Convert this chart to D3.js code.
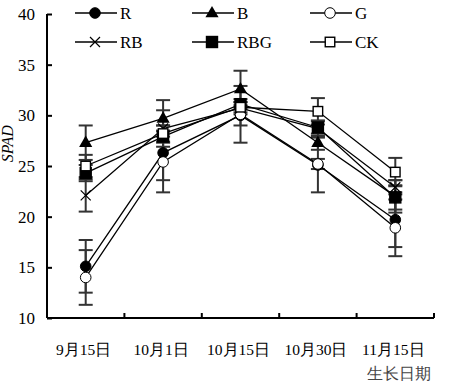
<!DOCTYPE html>
<html>
<head>
<meta charset="utf-8">
<script src="https://cdn.jsdelivr.net/npm/d3@7"></script>
<style>
  body { margin: 0; background: #fff; }
</style>
</head>
<body>
<svg id="chart"></svg>
<script>
(function(){

    var W = 450, H = 391;
    var margin = {top: 14, right: 16, bottom: 73, left: 47};
    var width = W - margin.left - margin.right;
    var height = H - margin.top - margin.bottom;
    var FONT = "'Liberation Serif'";

    // data
    var dates = ["9月15日", "10月1日", "10月15日", "10月30日", "11月15日"];
    var seriesNames = ["R", "B", "G", "RB", "RBG", "CK"];
    var R   = [15.1, 26.3, 30.0, 25.1, 19.7];
    var B   = [27.3, 29.7, 32.6, 27.3, 22.0];
    var G   = [14.0, 25.4, 30.1, 25.2, 18.9];
    var RB  = [22.1, 28.7, 30.7, 28.7, 22.9];
    var RBG = [24.3, 27.9, 31.1, 28.8, 21.9];
    var CK  = [25.0, 28.2, 30.8, 30.4, 24.4];
    var errR   = [2.6, 2.7, 1.0, 2.7, 2.7];
    var errB   = [1.7, 1.8, 1.8, 0.7, 1.6];
    var errG   = [2.7, 3.0, 2.8, 0.5, 2.8];
    var errRB  = [1.6, 1.8, 0.6, 0.8, 0.7];
    var errRBG = [0.8, 0.6, 0.5, 0.6, 1.2];
    var errCK  = [1.1, 0.8, 0.5, 1.3, 1.4];
    var yTicks = [10, 15, 20, 25, 30, 35, 40];

    var values = [R, B, G, RB, RBG, CK];
    var errors = [errR, errB, errG, errRB, errRBG, errCK];
    var shapes = ["circle", "triangle", "circleOpen", "cross", "square", "squareOpen"];

    var series = seriesNames.map(function(name, i){
        return {
            name: name,
            shape: shapes[i],
            points: values[i].map(function(v, j){ return {date: dates[j], value: v, err: errors[i][j]}; })
        };
    });

    var svg = d3.select("svg#chart")
        .attr("width", W)
        .attr("height", H)
        .append("g")
        .attr("transform", "translate(" + margin.left + "," + margin.top + ")");

    var xScale = d3.scaleBand()
        .domain(dates)
        .range([0, width]);

    var yScale = d3.scaleLinear()
        .domain([10, 40])
        .range([height, 0]);

    var cx = function(d){ return xScale(d.date) + xScale.bandwidth() / 2; };

    // y axis, ticks point inward
    svg.append("g")
        .attr("class", "yaxis")
        .call(d3.axisRight(yScale).tickValues(yTicks).tickSize(5).tickFormat(""))
        .call(function(g){
            g.select(".domain").attr("d", "M0," + yScale(40) + "V" + yScale(10)).attr("stroke-width", 2);
            g.selectAll(".tick line").attr("stroke-width", 2);
        });

    svg.append("g")
        .selectAll("text")
        .data(yTicks)
        .enter()
        .append("text")
            .attr("x", -12)
            .attr("y", function(d){ return yScale(d); })
            .attr("dy", "0.35em")
            .attr("text-anchor", "end")
            .style("font-family", FONT)
            .style("font-size", "17px")
            .text(function(d){ return d; });

    // x axis, ticks at band ends pointing up
    var xAxis = svg.append("g")
        .attr("transform", "translate(0," + height + ")");
    xAxis.append("line")
        .attr("x1", 0).attr("x2", width)
        .attr("stroke", "#000").attr("stroke-width", 2);
    xAxis.selectAll("line.tick")
        .data(dates)
        .enter()
        .append("line")
            .attr("class", "tick")
            .attr("x1", function(d){ return xScale(d) + xScale.bandwidth(); })
            .attr("x2", function(d){ return xScale(d) + xScale.bandwidth(); })
            .attr("y1", 0).attr("y2", -5)
            .attr("stroke", "#000").attr("stroke-width", 2);
    xAxis.selectAll("text")
        .data(dates)
        .enter()
        .append("text")
            .attr("x", function(d){ return xScale(d) + xScale.bandwidth() / 2 - 2; })
            .attr("y", 37)
            .attr("text-anchor", "middle")
            .style("font-family", FONT)
            .style("font-size", "15.5px")
            .text(function(d){ return d; });

    svg.append("text")
        .attr("x", width - 3)
        .attr("y", height + 61)
        .attr("text-anchor", "end")
        .style("font-family", FONT)
        .style("font-size", "15.5px")
        .attr("fill", "#444")
        .text("生长日期");

    svg.append("text")
        .attr("transform", "translate(" + (-34) + "," + yScale(27.2) + ") rotate(-90)")
        .attr("text-anchor", "middle")
        .style("font-family", FONT)
        .style("font-size", "16px")
        .style("font-style", "italic")
        .text("SPAD");

    // error bars
    var allPts = [];
    series.forEach(function(s){ s.points.forEach(function(p){ allPts.push(p); }); });

    var eb = svg.append("g").attr("stroke", "#333").attr("stroke-width", 2);
    eb.selectAll("line.v")
        .data(allPts)
        .enter()
        .append("line")
            .attr("x1", cx).attr("x2", cx)
            .attr("y1", function(d){ return yScale(d.value + d.err); })
            .attr("y2", function(d){ return yScale(d.value - d.err); });
    [1, -1].forEach(function(sign){
        eb.selectAll("line.cap" + sign)
            .data(allPts)
            .enter()
            .append("line")
                .attr("x1", function(d){ return cx(d) - 7; })
                .attr("x2", function(d){ return cx(d) + 7; })
                .attr("y1", function(d){ return yScale(d.value + sign * d.err); })
                .attr("y2", function(d){ return yScale(d.value + sign * d.err); });
    });

    // lines
    var line = d3.line()
        .x(cx)
        .y(function(d){ return yScale(d.value); });

    svg.append("g")
        .selectAll("path")
        .data(series)
        .enter()
        .append("path")
            .attr("d", function(d){ return line(d.points); })
            .attr("fill", "none")
            .attr("stroke", "#000")
            .attr("stroke-width", 1.3);

    function drawMarker(g, shape, x, y){
        if (shape === "circle" || shape === "circleOpen") {
            g.append("circle").attr("cx", x).attr("cy", y).attr("r", 5.3)
                .attr("fill", shape === "circle" ? "#000" : "#fff")
                .attr("stroke", "#000").attr("stroke-width", 1);
        } else if (shape === "square" || shape === "squareOpen") {
            var s = shape === "square" ? 11 : 9.5;
            g.append("rect").attr("x", x - s / 2).attr("y", y - s / 2).attr("width", s).attr("height", s)
                .attr("fill", shape === "square" ? "#000" : "#fff")
                .attr("stroke", "#000").attr("stroke-width", 1.4);
        } else if (shape === "triangle") {
            g.append("path")
                .attr("d", d3.symbol().type(d3.symbolTriangle).size(75)())
                .attr("transform", "translate(" + x + "," + (y + 0.5) + ")")
                .attr("fill", "#000");
        } else if (shape === "cross") {
            g.append("path")
                .attr("d", "M-5,-5L5,5M-5,5L5,-5")
                .attr("transform", "translate(" + x + "," + y + ")")
                .attr("stroke", "#000").attr("stroke-width", 1.2).attr("fill", "none");
        }
    }

    var markers = svg.append("g");
    series.forEach(function(s){
        s.points.forEach(function(p){ drawMarker(markers, s.shape, cx(p), yScale(p.value)); });
    });

    // legend
    var legend = svg.append("g");
    var legX = [28, 145, 263];
    var legY = [-1, 28];
    series.forEach(function(s, i){
        var lx = legX[i % 3], ly = legY[Math.floor(i / 3)];
        var g = legend.append("g");
        g.append("line")
            .attr("x1", lx).attr("x2", lx + 42)
            .attr("y1", ly).attr("y2", ly)
            .attr("stroke", "#000").attr("stroke-width", 1.5);
        drawMarker(g, s.shape, lx + 20, ly);
        g.append("text")
            .attr("x", lx + 45)
            .attr("y", ly)
            .attr("dy", "0.33em")
            .style("font-family", FONT)
            .style("font-size", "17px")
            .text(s.name);
    });

})()
</script>
</body>
</html>
